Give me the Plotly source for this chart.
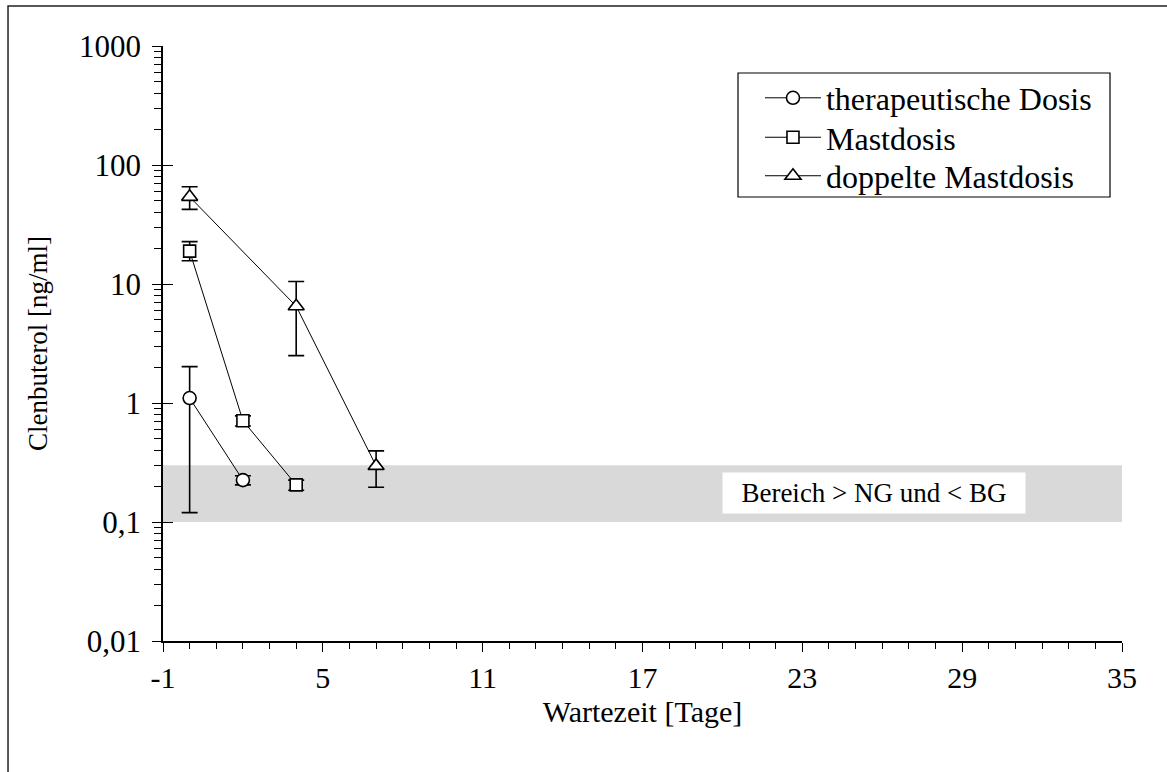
import plotly.graph_objects as go

FONT = "Liberation Serif"

# Data
ther_x = [0, 2]
ther_y = [1.1, 0.225]
ther_ep = [0.92, 0.02]
ther_em = [0.98, 0.02]

mast_x = [0, 2, 4]
mast_y = [18.9, 0.71, 0.205]
mast_ep = [3.8, 0.07, 0.02]
mast_em = [3.2, 0.07, 0.02]

dopp_x = [0, 4, 7]
dopp_y = [54, 6.5, 0.296]
dopp_ep = [11.7, 4.0, 0.1]
dopp_em = [11.6, 4.0, 0.1]

band_x = [-1, 35, 35, -1]
band_y = [0.1, 0.1, 0.3, 0.3]

x_ticks = [-1, 5, 11, 17, 23, 29, 35]
x_ticktext = ["-1", "5", "11", "17", "23", "29", "35"]
y_ticks = [0.01, 0.1, 1, 10, 100, 1000]
y_ticktext = ["0,01", "0,1", "1", "10", "100", "1000"]

fig = go.Figure()

fig.add_trace(go.Scatter(x=band_x, y=band_y, fill="toself", fillcolor="#d9d9d9",
                         mode="lines", line=dict(width=0), showlegend=False,
                         hoverinfo="skip"))

def add_series(name, xs, ys, ep, em, symbol, size, legend):
    fig.add_trace(go.Scatter(
        x=xs, y=ys, name=name, mode="lines+markers", legend=legend,
        line=dict(color="black", width=1),
        marker=dict(symbol=symbol, size=size, color="white",
                    line=dict(color="black", width=1.6)),
        error_y=dict(type="data", array=ep, arrayminus=em, symmetric=False,
                     color="black", thickness=1.6, width=8),
    ))

add_series("therapeutische Dosis", ther_x, ther_y, ther_ep, ther_em, "circle", 13, "legend")
add_series("Mastdosis", mast_x, mast_y, mast_ep, mast_em, "square", 12, "legend2")
add_series("doppelte Mastdosis", dopp_x, dopp_y, dopp_ep, dopp_em, "triangle-up", 14, "legend3")

# invisible trace for the overlay axis (crossing major ticks)
fig.add_trace(go.Scatter(x=[-1], y=[1], yaxis="y2", mode="markers",
                         marker=dict(opacity=0), showlegend=False, hoverinfo="skip"))

leg_common = dict(x=0.6225, xanchor="left", yanchor="middle",
                  bgcolor="rgba(0,0,0,0)", borderwidth=0,
                  font=dict(family=FONT, size=32, color="black"), itemwidth=56)

fig.update_layout(
    width=1167, height=772,
    margin=dict(l=163, r=45, t=46, b=131),
    paper_bgcolor="white", plot_bgcolor="white",
    font=dict(family=FONT, size=30, color="black"),
    showlegend=True,
    legend=dict(y=0.9126, **leg_common),
    legend2=dict(y=0.8463, **leg_common),
    legend3=dict(y=0.7816, **leg_common),
    xaxis=dict(range=[-1, 35], tickvals=x_ticks, ticktext=x_ticktext, showgrid=False,
               zeroline=False, showline=True, linecolor="black", linewidth=1.5,
               ticks="outside", ticklen=9, tickwidth=1.3, tickcolor="black",
               minor=dict(dtick=1, ticks="outside", ticklen=6, tickwidth=1, tickcolor="black"),
               tickfont=dict(family=FONT, size=30), ticklabelstandoff=0,
               title=dict(text="Wartezeit [Tage]", font=dict(family=FONT, size=30), standoff=8),
               automargin=False),
    yaxis=dict(type="log", range=[-2, 3], tickvals=y_ticks, ticktext=y_ticktext,
               showgrid=False, zeroline=False, showline=True, linecolor="black", linewidth=1.5,
               ticks="outside", ticklen=9, tickwidth=1.3, tickcolor="black",
               minor=dict(dtick="D1", ticks="outside", ticklen=7, tickwidth=1, tickcolor="black"),
               tickfont=dict(family=FONT, size=31), ticklabelstandoff=5,
               title=dict(text="Clenbuterol [ng/ml]", font=dict(family=FONT, size=27), standoff=24),
               automargin=False),
    yaxis2=dict(type="log", range=[-2, 3], overlaying="y", side="left", anchor="x",
                tickvals=y_ticks, showticklabels=False, ticks="inside", ticklen=10,
                tickwidth=1.3, tickcolor="black", showgrid=False, zeroline=False,
                showline=False),
    annotations=[dict(x=25.7, y=-0.756, xref="x", yref="y", text="Bereich > NG und < BG",
                      showarrow=False, bgcolor="white", width=300, height=38,
                      font=dict(family=FONT, size=27, color="black"))],
    shapes=[
        dict(type="rect", xref="paper", yref="paper", x0=-0.1616, y0=-0.25,
             x1=1.06, y1=1.0672, line=dict(color="#222", width=1.5),
             fillcolor="rgba(0,0,0,0)", layer="above"),
        dict(type="rect", xref="paper", yref="paper", x0=0.5996, y0=0.7462,
             x1=0.9875, y1=0.9546, line=dict(color="black", width=1.2),
             fillcolor="white", layer="above"),
    ],
)

fig.write_html("out.html")
